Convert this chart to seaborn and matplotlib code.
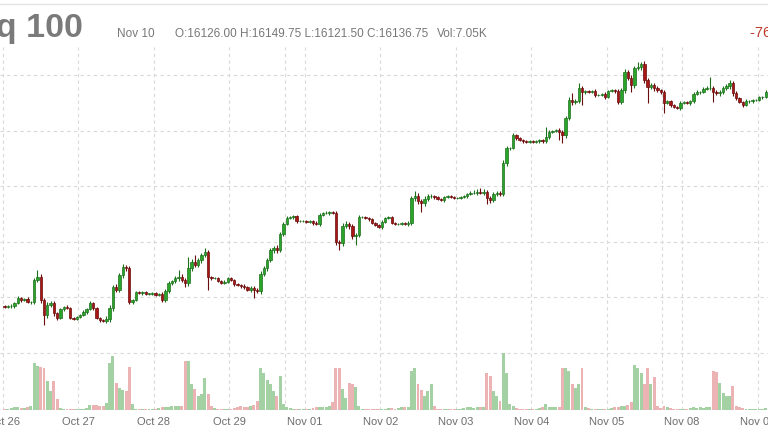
import matplotlib
matplotlib.use("Agg")
import matplotlib.pyplot as plt
import numpy as np
import pandas as pd
import seaborn as sns

sns.set_style("white")
plt.rcParams["font.family"] = ["Liberation Sans", "DejaVu Sans"]

# hourly candles, first session starts Oct 26 00:00, later ones at 18:00 the evening before
year = 2021
days = ["Oct 26", "Oct 27", "Oct 28", "Oct 29", "Nov 01", "Nov 02",
        "Nov 03", "Nov 04", "Nov 05", "Nov 08", "Nov 09"]
first_open = 15568
close = [
    # Oct 26
    15565, 15568, 15568, 15579, 15597, 15590, 15594, 15583, 15583, 15662, 15673, 15590,
    15536, 15572, 15579, 15543, 15525,
    # Oct 27
    15558, 15565, 15561, 15525, 15522, 15529, 15536, 15547, 15558, 15579, 15561, 15525,
    15518, 15514, 15522, 15561, 15637, 15626, 15680, 15709, 15705, 15583, 15590,
    # Oct 28
    15619, 15615, 15619, 15612, 15612, 15615, 15608, 15612, 15590, 15622, 15651, 15658,
    15669, 15673, 15662, 15651, 15705, 15727, 15716, 15734, 15752, 15763, 15673,
    # Oct 29
    15669, 15669, 15658, 15651, 15655, 15669, 15662, 15648, 15644, 15640, 15637, 15626,
    15633, 15626, 15622, 15684, 15705, 15734, 15770, 15777, 15770, 15828, 15864,
    # Nov 01
    15885, 15889, 15892, 15874, 15874, 15874, 15871, 15874, 15867, 15864, 15896, 15903,
    15903, 15907, 15903, 15799, 15795, 15856, 15864, 15856, 15820, 15824, 15889,
    # Nov 02
    15889, 15885, 15882, 15867, 15860, 15853, 15871, 15885, 15889, 15867, 15864, 15864,
    15867, 15864, 15867, 15957, 15964, 15946, 15939, 15954, 15964, 15964, 15961,
    # Nov 03
    15954, 15950, 15961, 15964, 15961, 15957, 15957, 15961, 15964, 15972, 15975, 15975,
    15979, 15975, 15979, 15957, 15950, 15972, 15975, 15972, 16083, 16137, 16137,
    # Nov 04
    16184, 16173, 16166, 16162, 16159, 16162, 16159, 16162, 16166, 16162, 16177, 16195,
    16198, 16202, 16195, 16184, 16245, 16310, 16303, 16306, 16353, 16339, 16342,
    # Nov 05
    16339, 16342, 16328, 16328, 16332, 16321, 16342, 16346, 16342, 16303, 16346, 16411,
    16389, 16364, 16425, 16429, 16440, 16382, 16357, 16364, 16353, 16346, 16339,
    # Nov 08
    16299, 16306, 16292, 16285, 16281, 16299, 16303, 16299, 16306, 16332, 16339, 16339,
    16350, 16353, 16353, 16339, 16335, 16339, 16353, 16360, 16371, 16335, 16317,
    # Nov 09
    16303, 16292, 16306, 16306, 16310, 16310, 16321, 16321, 16339,
]
# wick lengths above / below the body, index points
wick_hi = [
    5, 4, 6, 4, 7, 5, 4, 6, 5, 8, 25, 9, 7, 10, 8, 6, 5,
    5, 4, 6, 3, 4, 5, 4, 6, 5, 8, 4, 3, 4, 5, 9, 10, 8, 11, 7, 9, 6, 8, 5,
    4, 5, 3, 4, 5, 3, 4, 5, 6, 7, 6, 5, 8, 25, 10, 9, 40, 12, 25, 9, 8, 14, 6,
    4, 5, 3, 4, 6, 5, 4, 3, 5, 4, 6, 5, 7, 6, 8, 10, 7, 9, 8, 7, 10, 8, 6,
    6, 5, 4, 5, 3, 4, 5, 3, 4, 6, 8, 5, 6, 5, 4, 9, 8, 10, 9, 7, 8, 6, 7,
    4, 5, 3, 4, 5, 4, 6, 5, 4, 5, 3, 4, 5, 4, 6, 9, 18, 10, 8, 9, 7, 6, 5,
    4, 5, 4, 3, 5, 4, 3, 4, 5, 4, 6, 12, 10, 14, 11, 8, 9, 7, 6, 8, 10, 9, 5,
    6, 5, 4, 3, 4, 5, 3, 4, 5, 4, 36, 6, 5, 4, 6, 8, 9, 10, 25, 9, 18, 8, 5,
    5, 4, 6, 4, 5, 6, 4, 5, 4, 6, 8, 9, 7, 10, 9, 18, 7, 10, 9, 8, 7, 6, 5,
    6, 5, 4, 5, 3, 6, 5, 4, 5, 8, 6, 5, 7, 6, 40, 9, 8, 7, 9, 8, 11, 7, 6,
    5, 4, 6, 4, 5, 3, 5, 4, 6,
]
wick_lo = [
    4, 5, 6, 5, 4, 6, 5, 4, 6, 9, 8, 10, 36, 9, 8, 10, 7,
    5, 6, 4, 5, 4, 3, 5, 4, 6, 5, 6, 5, 7, 4, 8, 10, 9, 8, 7, 9, 10, 8, 6,
    5, 4, 6, 3, 4, 5, 4, 3, 6, 8, 7, 6, 5, 9, 8, 14, 10, 9, 8, 7, 9, 8, 47,
    6, 5, 4, 5, 3, 4, 5, 6, 4, 5, 6, 5, 7, 29, 8, 9, 7, 10, 8, 9, 10, 7, 6,
    5, 4, 6, 5, 4, 3, 5, 4, 6, 5, 6, 4, 5, 6, 5, 10, 25, 9, 8, 10, 9, 32, 7,
    5, 4, 6, 3, 5, 4, 6, 5, 4, 5, 4, 3, 5, 4, 6, 8, 9, 10, 32, 9, 8, 7, 6,
    5, 4, 6, 5, 4, 3, 5, 4, 5, 6, 4, 5, 6, 5, 7, 21, 11, 8, 7, 9, 8, 10, 6,
    5, 6, 4, 5, 3, 4, 5, 4, 6, 5, 8, 6, 5, 4, 29, 29, 9, 8, 10, 9, 8, 47, 6,
    4, 5, 6, 5, 4, 6, 5, 4, 6, 8, 7, 9, 8, 25, 9, 8, 10, 9, 58, 8, 10, 7, 6,
    36, 5, 6, 4, 5, 6, 4, 5, 6, 7, 5, 6, 4, 5, 6, 36, 8, 9, 7, 8, 9, 10, 7,
    5, 6, 4, 5, 6, 4, 5, 6, 5,
]
# contracts per hour, thousands
volume = [
    2, 2, 3, 5, 4, 3, 3, 4, 6, 74, 70, 69, 66, 46, 30, 46, 18,
    3, 2, 2, 2, 1, 2, 2, 2, 3, 8, 8, 8, 7, 6, 11, 74, 85, 43, 35, 32, 30, 69, 10,
    2, 2, 1, 2, 2, 1, 2, 3, 5, 5, 4, 6, 7, 6, 6, 78, 77, 42, 34, 22, 26, 50, 26,
    6, 3, 2, 2, 1, 2, 2, 3, 5, 6, 4, 5, 7, 8, 14, 66, 58, 48, 42, 30, 22, 54, 10,
    4, 3, 2, 2, 2, 1, 2, 2, 3, 4, 5, 4, 5, 6, 13, 67, 67, 34, 19, 43, 42, 37, 6,
    2, 2, 1, 2, 1, 2, 2, 2, 3, 3, 2, 3, 4, 5, 5, 62, 66, 42, 32, 22, 30, 42, 6,
    2, 2, 1, 2, 2, 1, 2, 2, 3, 4, 4, 3, 4, 5, 5, 59, 54, 30, 22, 14, 90, 59, 10,
    6, 3, 2, 2, 2, 1, 2, 2, 3, 4, 10, 4, 4, 5, 5, 66, 67, 62, 42, 35, 42, 66, 5,
    3, 2, 2, 2, 1, 2, 2, 3, 4, 5, 6, 7, 8, 13, 72, 67, 59, 42, 66, 42, 53, 6, 3,
    6, 4, 3, 2, 2, 1, 2, 2, 3, 5, 3, 4, 3, 4, 5, 62, 61, 43, 27, 22, 22, 38, 6,
    4, 3, 2, 2, 1, 2, 2, 2, 3,
]

hdr_title = "Nasdaq 100"
hdr_date = "Nov 10"
hdr_ohlc = "O:16126.00 H:16149.75 L:16121.50 C:16136.75"
hdr_vol = "Vol:7.05K"
hdr_chg = "-76.75 (-0.47%)"

assert len(close) == len(wick_hi) == len(wick_lo) == len(volume)

UP, UP_EDGE = "#2aa52a", "#1d6f1d"
DN, DN_EDGE = "#a81616", "#6a0c0c"
VOL_UP, VOL_DN = "#9dd89d", "#f4aaaa"
GRID = "#d9d9d9"

# session layout: first session has 17 hourly bars, the rest 23; midnight is 6 bars in
FIRST_SESSION, SESSION, MIDNIGHT = 17, 23, 6

close = np.array(close, float)
opn = np.r_[first_open, close[:-1]]
high = np.maximum(opn, close) + np.array(wick_hi)
low = np.minimum(opn, close) - np.array(wick_lo)
up = close >= opn
x = np.arange(len(close)) + 0.5

midnights = [0] + [FIRST_SESSION + SESSION * (i - 1) + MIDNIGHT for i in range(1, len(days))]
dates = pd.to_datetime([f"{d} {year}" for d in days], format="%b %d %Y")
weekend = [FIRST_SESSION + SESSION * (i - 1) for i in range(1, len(days))
           if (dates[i] - dates[i - 1]).days > 1]

fig = plt.figure(figsize=(7.68, 4.32), dpi=100)
ax = fig.add_axes([0, 22 / 432, 1, 363 / 432])

ax.vlines(x, low, high, colors=np.where(up, UP_EDGE, DN_EDGE), lw=0.8, zorder=3)
ax.bar(x, np.maximum(np.abs(close - opn), 1.5), bottom=np.minimum(opn, close), width=0.72,
       color=np.where(up, UP, DN), edgecolor=np.where(up, UP_EDGE, DN_EDGE),
       linewidth=0.5, zorder=4)

ax.set_xlim(-0.92, len(close) + 0.2)
ax.set_ylim(15194, 16501)
ax.set_yticks(np.arange(15400, 16401, 200))
ax.set_yticklabels([])
ax.set_xticks(midnights, days)
ax.set_xticks(weekend, minor=True)
ax.grid(True, which="both", color=GRID, lw=0.8, ls=(0, (3, 3)))
ax.tick_params(which="both", length=0)
ax.tick_params(axis="x", pad=5, labelsize=8, labelcolor="#6d6d6d")
sns.despine(ax=ax, left=True, bottom=True)

# volume overlay at the foot of the price panel
vol_df = pd.DataFrame({"x": x, "vol": volume, "dir": np.where(up, "up", "down")})
ax2 = ax.twinx()
sns.barplot(data=vol_df, x="x", y="vol", hue="dir", palette={"up": VOL_UP, "down": VOL_DN},
            native_scale=True, dodge=False, width=0.9, linewidth=0, errorbar=None,
            legend=False, ax=ax2)
ax2.set_xlim(ax.get_xlim())
ax2.set_ylim(0, 6.4 * max(volume))
ax2.set_axis_off()

# header strip
fig.add_artist(plt.Line2D([0, 1], [1 - 4 / 432, 1 - 4 / 432], transform=fig.transFigure,
                          color="#e4e4e4", lw=1))
base = 1 - 37 / 432
fig.text(83 / 768, base, hdr_title, ha="right", va="baseline", fontsize=24.5,
         fontweight="bold", color="#7a7a7a")
fig.text(117 / 768, base, hdr_date, ha="left", va="baseline", fontsize=8.5, color="#777777")
fig.text(175 / 768, base, hdr_ohlc, ha="left", va="baseline", fontsize=8.5, color="#777777")
fig.text(437 / 768, base, hdr_vol, ha="left", va="baseline", fontsize=8.5, color="#777777")
fig.text(750 / 768, base, hdr_chg, ha="left", va="baseline", fontsize=10.5, color="#c0392b")

fig.savefig("out.png", dpi=100)
